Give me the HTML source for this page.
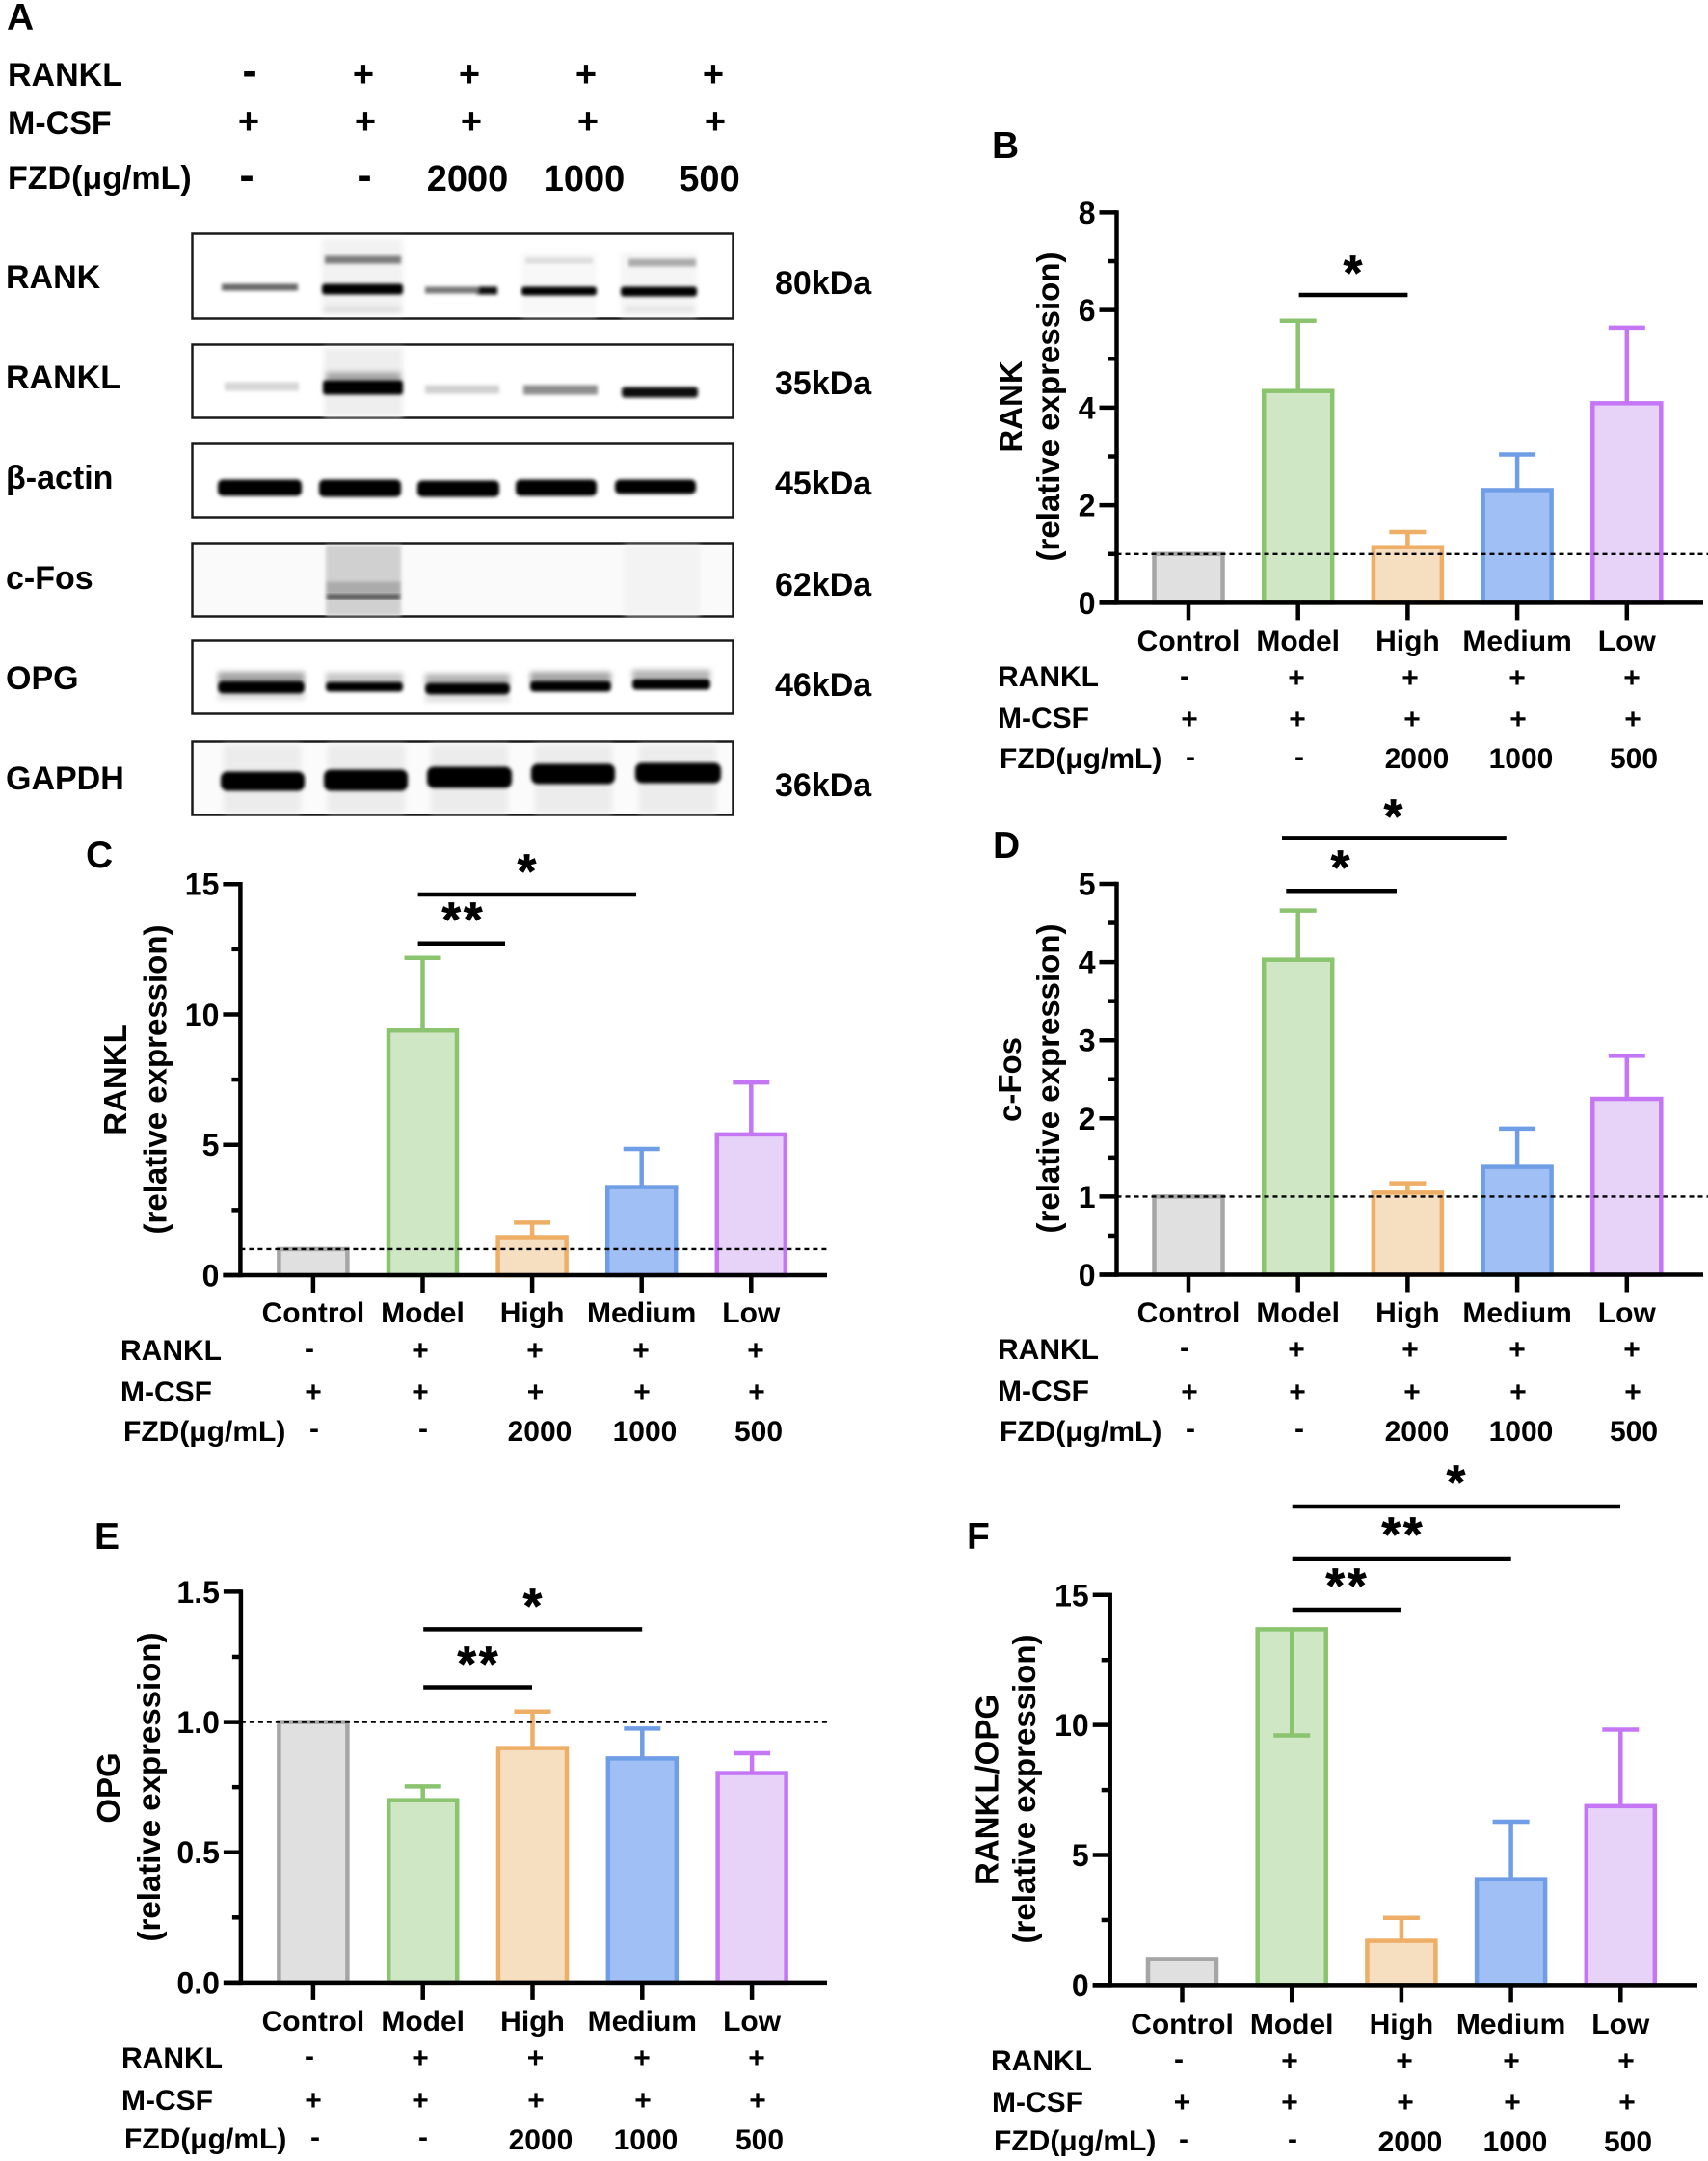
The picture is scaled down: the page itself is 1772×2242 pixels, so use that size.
<!DOCTYPE html>
<html lang="en">
<head>
<meta charset="utf-8">
<title>Western blot and relative expression bar charts</title>
<style>
html,body{margin:0;padding:0;background:#fff;width:1772px;height:2242px;overflow:hidden}
svg{display:block}
text{font-family:"Liberation Sans",Arial,sans-serif;font-weight:700;fill:#000}
.letter{font-size:39px}
.lab{font-size:30px}
.m{font-size:30px;text-anchor:middle}
.a{font-size:34px}
.am{font-size:38px;text-anchor:middle}
.amn{font-size:46px;text-anchor:middle}
.an{font-size:38px;text-anchor:middle}
.t{font-size:33px;text-anchor:middle}
.star{font-size:50px;text-anchor:middle;letter-spacing:3px;stroke:#000;stroke-width:.8px}
.sig{stroke:#000;stroke-width:4.5;fill:none}
.box{fill:#fff;stroke:#1a1a1a;stroke-width:2.5}
</style>
</head>
<body>
<svg id="figure" xmlns="http://www.w3.org/2000/svg" width="1772" height="2242" viewBox="0 0 1772 2242">
<defs>
<filter id="b" x="-20%" y="-150%" width="140%" height="400%"><feMorphology operator="dilate" radius="1 1.5"/><feGaussianBlur stdDeviation="1.8"/></filter>
<filter id="h" x="-20%" y="-50%" width="140%" height="200%"><feGaussianBlur stdDeviation="3"/></filter>
</defs>

<text class="letter" x="7" y="31">A</text>
<text class="letter" x="1029" y="164">B</text>
<text class="letter" x="89" y="900">C</text>
<text class="letter" x="1030" y="890">D</text>
<text class="letter" x="98" y="1607">E</text>
<text class="letter" x="1003" y="1607">F</text>

<g>
<text class="a" x="8" y="89">RANKL</text>
<text class="amn" x="259" y="89">-</text>
<text class="am" x="377" y="89.5">+</text>
<text class="am" x="487" y="89.5">+</text>
<text class="am" x="608" y="89.5">+</text>
<text class="am" x="740" y="89.5">+</text>
<text class="a" x="8" y="139">M-CSF</text>
<text class="am" x="258" y="138.5">+</text>
<text class="am" x="379" y="138.5">+</text>
<text class="am" x="489" y="138.5">+</text>
<text class="am" x="610" y="138.5">+</text>
<text class="am" x="742" y="138.5">+</text>
<text class="a" x="8" y="196">FZD(μg/mL)</text>
<text class="amn" x="256" y="197.5">-</text>
<text class="amn" x="378" y="197.5">-</text>
<text class="an" x="485" y="198">2000</text>
<text class="an" x="606" y="198">1000</text>
<text class="an" x="736" y="198">500</text>
</g>

<g>
<text class="a" x="6" y="299">RANK</text>
<text class="a" x="6" y="403">RANKL</text>
<text class="a" x="6" y="507">β-actin</text>
<text class="a" x="6" y="611">c-Fos</text>
<text class="a" x="6" y="715">OPG</text>
<text class="a" x="6" y="819">GAPDH</text>
<text class="a" x="804" y="305">80kDa</text>
<text class="a" x="804" y="409">35kDa</text>
<text class="a" x="804" y="513">45kDa</text>
<text class="a" x="804" y="618">62kDa</text>
<text class="a" x="804" y="722">46kDa</text>
<text class="a" x="804" y="826">36kDa</text>
</g>

<g>
<rect class="box" x="199.5" y="242.5" width="561" height="88"/>
<g filter="url(#h)">
<rect x="334" y="248" width="84" height="78" fill="#f2f2f2"/>
<rect x="541" y="262" width="78" height="66" fill="#f8f8f8"/>
<rect x="644" y="262" width="79" height="66" fill="#f5f5f5"/>
<rect x="336" y="318" width="80" height="6" fill="#dcdcdc"/>
<rect x="648" y="318" width="72" height="6" fill="#e2e2e2"/>
</g>
<g filter="url(#b)">
<rect x="338" y="267" width="77" height="5" fill="#7a7a7a"/>
<rect x="546" y="269" width="68" height="3" fill="#dcdcdc"/>
<rect x="653" y="270" width="68" height="5" fill="#ababab"/>
<rect x="231" y="296" width="77" height="4" fill="#666"/>
<rect x="335" y="296" width="82" height="8" rx="3" fill="#000"/>
<rect x="442" y="299" width="73" height="4" fill="#777"/>
<rect x="495" y="299" width="20" height="5" fill="#111"/>
<rect x="542" y="299" width="76" height="6" rx="3" fill="#000"/>
<rect x="645" y="299" width="77" height="7" rx="3" fill="#000"/>
</g>
</g>

<g>
<rect class="box" x="199.5" y="357.5" width="561" height="76"/>
<g filter="url(#h)">
<rect x="336" y="361" width="82" height="71" fill="#eeeeee"/>
<rect x="338" y="386" width="78" height="10" fill="#a4a4a4"/>
</g>
<g filter="url(#b)">
<rect x="234" y="398" width="75" height="6" fill="#d6d6d6"/>
<rect x="336" y="396" width="81" height="12" rx="3" fill="#000"/>
<rect x="442" y="401" width="75" height="6" fill="#d0d0d0"/>
<rect x="544" y="401" width="75" height="7" fill="#8e8e8e"/>
<rect x="646" y="403" width="77" height="8" rx="3" fill="#0c0c0c"/>
</g>
</g>

<g>
<rect class="box" x="199.5" y="460.5" width="561" height="76"/>
<g filter="url(#b)">
<rect x="227" y="499" width="85" height="14" rx="5" fill="#000"/>
<rect x="332" y="499" width="83" height="15" rx="5" fill="#000"/>
<rect x="434" y="500" width="83" height="14" rx="5" fill="#000"/>
<rect x="536" y="499" width="82" height="14" rx="5" fill="#000"/>
<rect x="639" y="499" width="82" height="12" rx="5" fill="#000"/>
</g>
</g>

<g>
<rect class="box" x="199.5" y="563.5" width="561" height="76" style="fill:#fafafa"/>
<g>
<rect x="339" y="567" width="76" height="70" fill="#d0d0d0" filter="url(#b)"/>
<rect x="340" y="605" width="74" height="10" fill="#ababab" filter="url(#b)"/>
<rect x="648" y="566" width="78" height="72" fill="#f3f3f3" filter="url(#h)"/>
<rect x="340" y="618" width="74" height="2" fill="#4f4f4f" filter="url(#b)"/>
</g>
</g>

<g>
<rect class="box" x="199.5" y="664.5" width="561" height="76"/>
<g filter="url(#h)">
<rect x="226" y="697" width="90" height="12" fill="#a6a6a6"/>
<rect x="338" y="698" width="80" height="11" fill="#c6c6c6"/>
<rect x="441" y="699" width="88" height="12" fill="#b4b4b4"/>
<rect x="550" y="697" width="84" height="11" fill="#a6a6a6"/>
<rect x="656" y="695" width="81" height="10" fill="#b4b4b4"/>
<rect x="226" y="718" width="90" height="8" fill="#dedede"/>
<rect x="441" y="720" width="88" height="8" fill="#dedede"/>
</g>
<g filter="url(#b)">
<rect x="227" y="708" width="88" height="10" rx="5" fill="#050505"/>
<rect x="339" y="709" width="78" height="7" rx="4" fill="#050505"/>
<rect x="442" y="710" width="86" height="9" rx="5" fill="#050505"/>
<rect x="551" y="708" width="82" height="8" rx="4" fill="#050505"/>
<rect x="657" y="706" width="79" height="8" rx="4" fill="#050505"/>
</g>
</g>

<g>
<rect class="box" x="199.5" y="769.5" width="561" height="76" style="fill:#fbfbfb"/>
<g filter="url(#h)">
<rect x="232" y="773" width="80" height="70" fill="#ececec"/>
<rect x="340" y="773" width="80" height="70" fill="#ececec"/>
<rect x="447" y="773" width="80" height="70" fill="#ececec"/>
<rect x="555" y="773" width="80" height="70" fill="#ececec"/>
<rect x="663" y="773" width="80" height="70" fill="#ececec"/>
</g>
<g filter="url(#b)">
<rect x="230" y="802" width="85" height="17" rx="7" fill="#000"/>
<rect x="337" y="800" width="85" height="19" rx="7" fill="#000"/>
<rect x="444" y="797" width="86" height="19" rx="7" fill="#000"/>
<rect x="552" y="794" width="85" height="18" rx="7" fill="#000"/>
<rect x="660" y="793" width="87" height="18" rx="7" fill="#000"/>
</g>
</g>

<!-- Panel B -->
<g>
<text class="t" transform="translate(1060 422) rotate(-90)">RANK</text>
<text class="t" transform="translate(1099 422) rotate(-90)">(relative expression)</text>
<line class="sig" x1="1347.6" x2="1460.4" y1="306" y2="306"/>
<text class="star" x="1405" y="300">*</text>
<text class="lab" x="1035" y="712">RANKL</text>
<text class="m" x="1229" y="711">-</text>
<text class="m" x="1345" y="713">+</text>
<text class="m" x="1463" y="713">+</text>
<text class="m" x="1574" y="713">+</text>
<text class="m" x="1693" y="713">+</text>
<text class="lab" x="1035" y="755">M-CSF</text>
<text class="m" x="1234" y="756">+</text>
<text class="m" x="1346" y="756">+</text>
<text class="m" x="1465" y="756">+</text>
<text class="m" x="1575" y="756">+</text>
<text class="m" x="1694" y="756">+</text>
<text class="lab" x="1037" y="797">FZD(μg/mL)</text>
<text class="m" x="1235" y="795">-</text>
<text class="m" x="1348" y="795">-</text>
<text class="m" x="1470" y="797">2000</text>
<text class="m" x="1578" y="797">1000</text>
<text class="m" x="1695" y="797">500</text>
</g>

<!-- Panel C -->
<g>
<text class="t" transform="translate(131 1120) rotate(-90)">RANKL</text>
<text class="t" transform="translate(172.5 1120) rotate(-90)">(relative expression)</text>
<line class="sig" x1="433.6" x2="660" y1="928" y2="928"/>
<text class="star" x="548" y="921">*</text>
<line class="sig" x1="433.6" x2="524" y1="978.7" y2="978.7"/>
<text class="star" x="481" y="971">**</text>
<text class="lab" x="125" y="1411">RANKL</text>
<text class="m" x="321" y="1409">-</text>
<text class="m" x="436" y="1411">+</text>
<text class="m" x="555" y="1411">+</text>
<text class="m" x="665" y="1411">+</text>
<text class="m" x="784" y="1411">+</text>
<text class="lab" x="125" y="1454">M-CSF</text>
<text class="m" x="325" y="1454">+</text>
<text class="m" x="436" y="1454">+</text>
<text class="m" x="555.5" y="1454">+</text>
<text class="m" x="666" y="1454">+</text>
<text class="m" x="785" y="1454">+</text>
<text class="lab" x="128" y="1495">FZD(μg/mL)</text>
<text class="m" x="326" y="1492">-</text>
<text class="m" x="439" y="1492">-</text>
<text class="m" x="560" y="1495">2000</text>
<text class="m" x="669" y="1495">1000</text>
<text class="m" x="787" y="1495">500</text>
</g>

<!-- Panel D -->
<g>
<text class="t" transform="translate(1059 1120) rotate(-90)">c-Fos</text>
<text class="t" transform="translate(1099 1119) rotate(-90)">(relative expression)</text>
<line class="sig" x1="1330" x2="1562.8" y1="869.4" y2="869.4"/>
<text class="star" x="1447" y="864">*</text>
<line class="sig" x1="1334.3" x2="1449" y1="924.3" y2="924.3"/>
<text class="star" x="1392" y="917">*</text>
<text class="lab" x="1035" y="1410">RANKL</text>
<text class="m" x="1229" y="1408">-</text>
<text class="m" x="1345" y="1410">+</text>
<text class="m" x="1463" y="1410">+</text>
<text class="m" x="1574" y="1410">+</text>
<text class="m" x="1693" y="1410">+</text>
<text class="lab" x="1035" y="1453">M-CSF</text>
<text class="m" x="1234" y="1454">+</text>
<text class="m" x="1346" y="1454">+</text>
<text class="m" x="1465" y="1454">+</text>
<text class="m" x="1575" y="1454">+</text>
<text class="m" x="1694" y="1454">+</text>
<text class="lab" x="1037" y="1495">FZD(μg/mL)</text>
<text class="m" x="1235" y="1492">-</text>
<text class="m" x="1348" y="1492">-</text>
<text class="m" x="1470" y="1495">2000</text>
<text class="m" x="1578" y="1495">1000</text>
<text class="m" x="1695" y="1495">500</text>
</g>

<!-- Panel E -->
<g>
<text class="t" transform="translate(124 1855) rotate(-90)">OPG</text>
<text class="t" transform="translate(166 1854) rotate(-90)">(relative expression)</text>
<line class="sig" x1="439.2" x2="666.2" y1="1690.4" y2="1690.4"/>
<text class="star" x="554" y="1683">*</text>
<line class="sig" x1="439.2" x2="552" y1="1750.5" y2="1750.5"/>
<text class="star" x="497" y="1743">**</text>
<text class="lab" x="126" y="2145">RANKL</text>
<text class="m" x="321" y="2143">-</text>
<text class="m" x="436" y="2145">+</text>
<text class="m" x="555.5" y="2145">+</text>
<text class="m" x="666" y="2145">+</text>
<text class="m" x="785" y="2145">+</text>
<text class="lab" x="126" y="2189">M-CSF</text>
<text class="m" x="325" y="2189">+</text>
<text class="m" x="436" y="2189">+</text>
<text class="m" x="556" y="2189">+</text>
<text class="m" x="667" y="2189">+</text>
<text class="m" x="786" y="2189">+</text>
<text class="lab" x="129" y="2229">FZD(μg/mL)</text>
<text class="m" x="327" y="2227">-</text>
<text class="m" x="439" y="2227">-</text>
<text class="m" x="561" y="2230">2000</text>
<text class="m" x="670" y="2230">1000</text>
<text class="m" x="788" y="2230">500</text>
</g>

<!-- Panel F -->
<g>
<text class="t" transform="translate(1035.5 1857) rotate(-90)">RANKL/OPG</text>
<text class="t" transform="translate(1074 1856) rotate(-90)">(relative expression)</text>
<line class="sig" x1="1340.7" x2="1681" y1="1563" y2="1563"/>
<text class="star" x="1512" y="1555">*</text>
<line class="sig" x1="1340.7" x2="1567.7" y1="1617" y2="1617"/>
<text class="star" x="1456" y="1609">**</text>
<line class="sig" x1="1340.7" x2="1453.5" y1="1670" y2="1670"/>
<text class="star" x="1398" y="1662">**</text>
<text class="lab" x="1028" y="2148">RANKL</text>
<text class="m" x="1223" y="2146">-</text>
<text class="m" x="1338" y="2148">+</text>
<text class="m" x="1457" y="2148">+</text>
<text class="m" x="1568" y="2148">+</text>
<text class="m" x="1687" y="2148">+</text>
<text class="lab" x="1029" y="2191">M-CSF</text>
<text class="m" x="1226.5" y="2191">+</text>
<text class="m" x="1338" y="2191">+</text>
<text class="m" x="1458" y="2191">+</text>
<text class="m" x="1569" y="2191">+</text>
<text class="m" x="1688" y="2191">+</text>
<text class="lab" x="1031" y="2231">FZD(μg/mL)</text>
<text class="m" x="1228" y="2229">-</text>
<text class="m" x="1341" y="2229">-</text>
<text class="m" x="1463" y="2232">2000</text>
<text class="m" x="1572" y="2232">1000</text>
<text class="m" x="1689" y="2232">500</text>
</g>
</svg>

<script>
const categories = ['Control', 'Model', 'High', 'Medium', 'Low'];

const rankMeans = [1.0, 4.34, 1.14, 2.31, 4.09];
const rankErrorEnds = [1.0, 5.78, 1.45, 3.04, 5.64];
const rankTicks = ['0', '2', '4', '6', '8'];

const ranklMeans = [1.0, 9.38, 1.46, 3.38, 5.4];
const ranklErrorEnds = [1.0, 12.17, 2.02, 4.84, 7.39];
const ranklTicks = ['0', '5', '10', '15'];

const cfosMeans = [1.0, 4.03, 1.05, 1.38, 2.25];
const cfosErrorEnds = [1.0, 4.66, 1.17, 1.87, 2.8];
const cfosTicks = ['0', '1', '2', '3', '4', '5'];

const opgMeans = [1.0, 0.7, 0.9, 0.86, 0.804];
const opgErrorEnds = [1.0, 0.753, 1.04, 0.975, 0.88];
const opgTicks = ['0.0', '0.5', '1.0', '1.5'];

const ratioMeans = [1.0, 13.68, 1.7, 4.07, 6.88];
const ratioErrorEnds = [1.0, 9.6, 2.58, 6.28, 9.82];
const ratioTicks = ['0', '5', '10', '15'];

const barStroke = ['#a6a6a6', '#8ac46f', '#eeae66', '#6f9de6', '#c576f5'];
const barFill = ['#e0e0e0', '#d0e7c6', '#f6dfc1', '#a0bff5', '#e8d3f8'];

const SVG_NS = 'http://www.w3.org/2000/svg';
const figure = document.getElementById('figure');

function make(parent, tag, attrs, text) {
  const el = document.createElementNS(SVG_NS, tag);
  for (const key in attrs) el.setAttribute(key, attrs[key]);
  if (text !== undefined) el.textContent = text;
  parent.appendChild(el);
  return el;
}

function drawChart(cfg) {
  const yScale = v => cfg.y0 - v * (cfg.y0 - cfg.yTop) / cfg.max;
  const xScale = i => cfg.xFirst + i * cfg.step;

  const g = make(figure, 'g', {});
  
  

  cfg.means.forEach((v, i) => {
    const slug = categories[i].toLowerCase();
    const bar = make(g, 'rect', {
      x: xScale(i) - 35.5, y: yScale(v), width: 71, height: cfg.y0 - yScale(v),
      fill: barFill[i], stroke: barStroke[i], 'stroke-width': 4.5
    });
    
    

    if (cfg.errorEnds[i] !== v) {
      const stem = make(g, 'line', {
        x1: xScale(i), x2: xScale(i), y1: yScale(v), y2: yScale(cfg.errorEnds[i]),
        stroke: barStroke[i], 'stroke-width': 4.5
      });
      
      

      const cap = make(g, 'line', {
        x1: xScale(i) - 19, x2: xScale(i) + 19, y1: yScale(cfg.errorEnds[i]), y2: yScale(cfg.errorEnds[i]),
        stroke: barStroke[i], 'stroke-width': 4.5
      });
      
      
    }
  });

  if (cfg.refEnd) {
    const ref = make(g, 'line', {
      x1: cfg.x0, x2: cfg.refEnd, y1: yScale(cfg.refValue), y2: yScale(cfg.refValue),
      stroke: '#000', 'stroke-width': 2.4, 'stroke-dasharray': '5 4'
    });
    
    
  }

  const yAxis = make(g, 'line', {
    x1: cfg.x0, x2: cfg.x0, y1: cfg.yTop - 2.2, y2: cfg.y0 + 2.2, stroke: '#000', 'stroke-width': 4.5
  });
  
  

  const xAxis = make(g, 'line', {
    x1: cfg.x0 - 18, x2: cfg.xEnd, y1: cfg.y0, y2: cfg.y0, stroke: '#000', 'stroke-width': 4.5
  });
  
  

  cfg.ticks.forEach((label, i) => {
    const v = parseFloat(label);
    const tick = make(g, 'line', {
      x1: cfg.x0 - 18, x2: cfg.x0, y1: yScale(v), y2: yScale(v), stroke: '#000', 'stroke-width': 4.5
    });
    
    

    const tickText = make(g, 'text', {
      x: cfg.x0 - 22, y: yScale(v) + 11.5, 'text-anchor': 'end', 'font-size': 32
    }, label);
    
    

    if (i < cfg.ticks.length - 1) {
      const midValue = (v + parseFloat(cfg.ticks[i + 1])) / 2;
      const minor = make(g, 'line', {
        x1: cfg.x0 - 9, x2: cfg.x0, y1: yScale(midValue), y2: yScale(midValue), stroke: '#000', 'stroke-width': 4.5
      });
      
      
    }
  });

  categories.forEach((label, i) => {
    const tick = make(g, 'line', {
      x1: xScale(i), x2: xScale(i), y1: cfg.y0, y2: cfg.y0 + 18, stroke: '#000', 'stroke-width': 4.5
    });
    
    

    const catText = make(g, 'text', {
      x: xScale(i), y: cfg.catY, 'text-anchor': 'middle', 'font-size': 30
    }, label);
    
    
  });
}

drawChart({
  name: 'chart-b-rank', means: rankMeans, errorEnds: rankErrorEnds, ticks: rankTicks,
  max: 8, refValue: 1, x0: 1158.5, xFirst: 1233, step: 113.7, y0: 625.4, yTop: 220.4, xEnd: 1767, refEnd: 1772, catY: 675
});
drawChart({
  name: 'chart-c-rankl', means: ranklMeans, errorEnds: ranklErrorEnds, ticks: ranklTicks,
  max: 15, refValue: 1, x0: 249.4, xFirst: 324.9, step: 113.6, y0: 1323, yTop: 917.2, xEnd: 858, refEnd: 860, catY: 1372
});
drawChart({
  name: 'chart-d-c-fos', means: cfosMeans, errorEnds: cfosErrorEnds, ticks: cfosTicks,
  max: 5, refValue: 1, x0: 1158.5, xFirst: 1233, step: 113.7, y0: 1322.5, yTop: 917, xEnd: 1767, refEnd: 1772, catY: 1372
});
drawChart({
  name: 'chart-e-opg', means: opgMeans, errorEnds: opgErrorEnds, ticks: opgTicks,
  max: 1.5, refValue: 1, x0: 249.9, xFirst: 324.9, step: 113.8, y0: 2056.9, yTop: 1651.4, xEnd: 858, refEnd: 860, catY: 2107
});
drawChart({
  name: 'chart-f-rankl-opg', means: ratioMeans, errorEnds: ratioErrorEnds, ticks: ratioTicks,
  max: 15, refValue: 1, x0: 1151.7, xFirst: 1226.5, step: 113.7, y0: 2059.4, yTop: 1654.8, xEnd: 1761, refEnd: 0, catY: 2110
});
</script>
</body>
</html>
